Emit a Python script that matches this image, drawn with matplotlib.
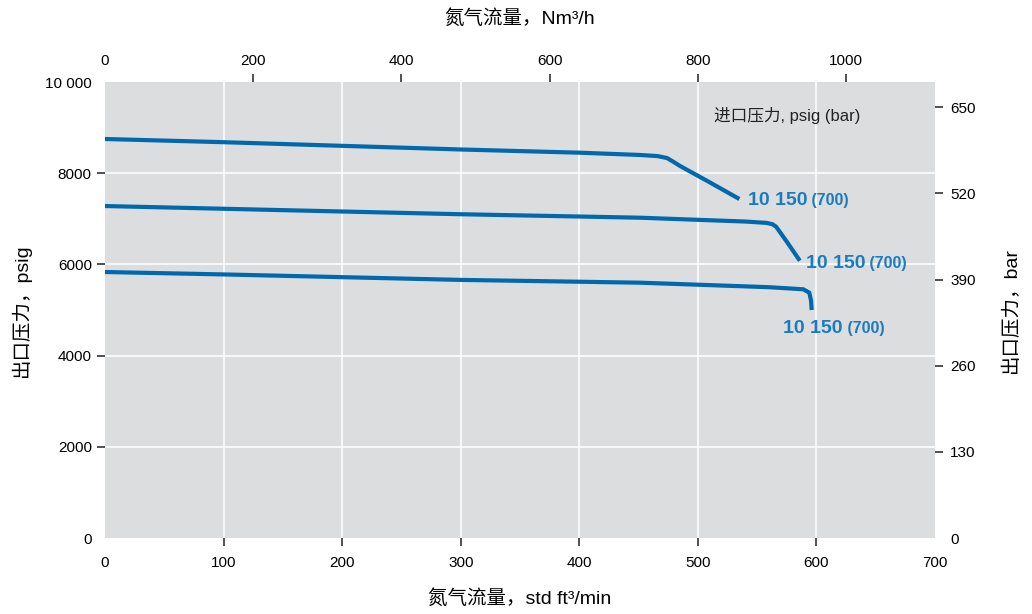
#!/usr/bin/env python3
"""Nitrogen flow vs outlet pressure chart."""

import matplotlib

matplotlib.use("Agg")
import matplotlib.pyplot as plt

plt.rcParams["font.family"] = ["Liberation Sans", "Noto Sans CJK SC", "DejaVu Sans"]

# curves: flow std ft3/min, outlet pressure psig
flow_a = [0, 100, 200, 300, 400, 451, 466, 474, 480, 485, 510, 535]
psig_a = [8750, 8680, 8600, 8520, 8450, 8400, 8375, 8333, 8240, 8158, 7800, 7434]
flow_b = [0, 100, 200, 300, 400, 451, 540, 558, 563, 566, 575, 586]
psig_b = [7280, 7220, 7160, 7100, 7050, 7024, 6940, 6910, 6880, 6827, 6498, 6081]
flow_c = [0, 100, 200, 300, 400, 451, 560, 589, 594, 595.5, 596]
psig_c = [5833, 5780, 5720, 5660, 5620, 5599, 5500, 5454, 5380, 5200, 5000]

labels = ["10 150", "10 150", "10 150"]
labels_bar = ["(700)", "(700)", "(700)"]
label_pos = [(542, 7412), (591, 6009), (572, 4605)]

x_ticks = [100, 200, 300, 400, 500, 600]
x_ends = [0, 700]
y_ticks = [2000, 4000, 6000, 8000]
y_ends = [0, 10000]
y_end_labels = ["0", "10 000"]
top_ticks = [200, 400, 600, 800, 1000]
right_ticks = [130, 260, 390, 520, 650]

line_c = "#0069ad"
text_c = "#1a7bbf"
tick_kw = dict(labelsize=11, length=6, width=1.2, color="#333333")


def main() -> None:
    fig = plt.figure(figsize=(10.32, 6.14), dpi=100)
    ax = fig.add_axes([105 / 1032, 76 / 614, 830 / 1032, 456 / 614])
    ax.set_facecolor("#dcdddf")
    ax.set_xlim(0, 700)
    ax.set_ylim(0, 10000)

    for v in x_ticks:
        ax.axvline(v, color="white", lw=1.1, zorder=1)
    for v in y_ticks:
        ax.axhline(v, color="white", lw=1.1, zorder=1)

    for fx, py in [(flow_a, psig_a), (flow_b, psig_b), (flow_c, psig_c)]:
        ax.plot(fx, py, color=line_c, lw=3, solid_capstyle="butt",
                solid_joinstyle="round", zorder=3)

    for (lx, ly), big, small in zip(label_pos, labels, labels_bar):
        t = ax.text(lx, ly, big, color=text_c, fontsize=14, va="center", ha="left",
                    fontweight="bold", zorder=4)
        ax.annotate(" " + small, xycoords=t, xy=(1, 0.5), va="center", ha="left",
                    color=text_c, fontsize=11.5, fontweight="bold")

    ax.text(514, 9276, "进口压力, psig (bar)", fontsize=12, va="center", ha="left", color="#222222")

    ax.set_xticks(x_ticks)
    ax.set_xticks(x_ends, minor=True)
    ax.set_xticklabels([str(v) for v in x_ends], minor=True)
    ax.set_yticks(y_ticks)
    ax.set_yticks(y_ends, minor=True)
    ax.set_yticklabels(y_end_labels, minor=True)
    ax.tick_params(axis="x", which="major", pad=7, **tick_kw)
    ax.tick_params(axis="x", which="minor", labelsize=11, length=0, pad=13)
    ax.tick_params(axis="y", which="major", pad=3.5, **tick_kw)
    ax.tick_params(axis="y", which="minor", labelsize=11, length=0, pad=9.5)
    ax.set_xlabel("氮气流量，std ft³/min", fontsize=14, labelpad=14)
    ax.set_ylabel("出口压力，psig", fontsize=14, labelpad=10)

    top = ax.twiny()
    top.set_xlim(0, 1120)
    top.set_xticks(top_ticks)
    top.set_xticks([0], minor=True)
    top.set_xticklabels(["0"], minor=True)
    top.tick_params(axis="x", which="major", pad=4, **tick_kw)
    top.tick_params(axis="x", which="minor", labelsize=11, length=0, pad=10)
    top.set_xlabel("氮气流量，Nm³/h", fontsize=14, labelpad=22)

    right = ax.twinx()
    right.set_ylim(0, 688)
    right.set_yticks(right_ticks)
    right.set_yticks([0], minor=True)
    right.set_yticklabels(["0"], minor=True)
    right.tick_params(axis="y", which="major", pad=5, **tick_kw)
    right.tick_params(axis="y", which="minor", labelsize=11, length=0, pad=11)
    right.set_ylabel("出口压力，bar", fontsize=14, labelpad=19)
    for a in (ax, top, right):
        for s in a.spines.values():
            s.set_visible(False)

    fig.savefig("out.png", dpi=100)
    plt.close(fig)


if __name__ == "__main__":
    main()
